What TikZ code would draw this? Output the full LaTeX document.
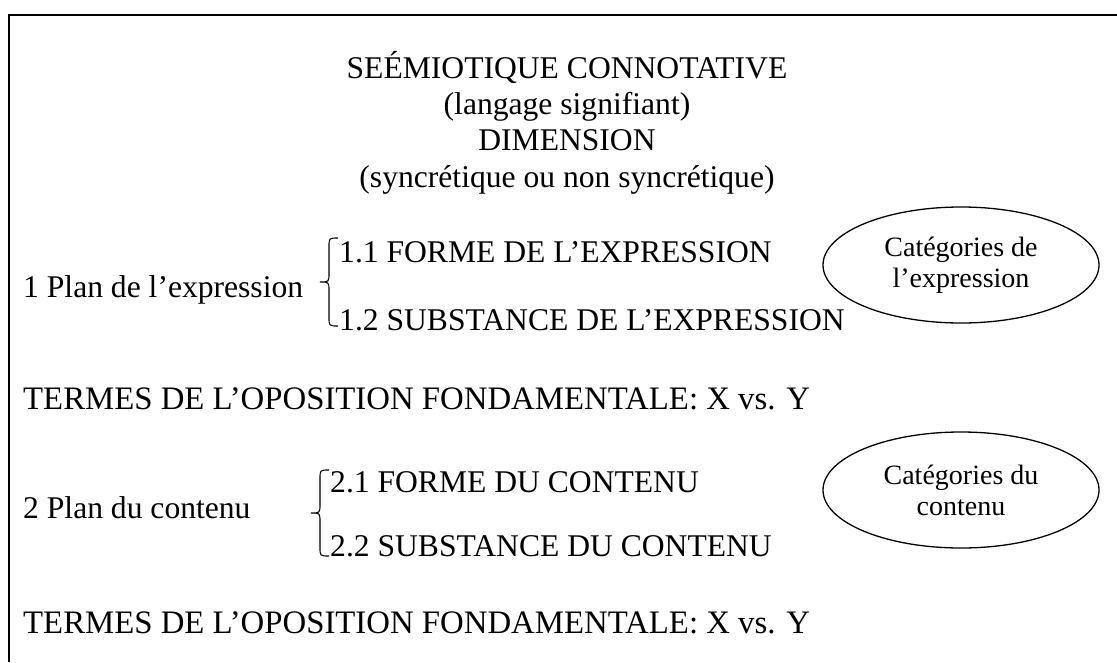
\documentclass[tikz,border=0pt]{standalone}
\usepackage{fontspec}
\setmainfont{Liberation Serif}
\usetikzlibrary{shapes.geometric}
\tikzset{
  maintext/.style={inner sep=0pt, anchor=base west, font=\fontsize{31.6}{36}\selectfont},
  termtext/.style={inner sep=0pt, anchor=base west, font=\fontsize{32.8}{37}\selectfont},
  titletext/.style={inner sep=0pt, anchor=base, font=\fontsize{31.6}{36}\selectfont},
  catellipse/.style={draw, line width=1.3pt, ellipse, minimum width=276pt, minimum height=116pt, inner sep=0pt, align=center, font=\fontsize{28}{31}\selectfont},
  bracepath/.style={line width=1.1pt},
  frame/.style={line width=2pt}
}
\begin{document}
\begin{tikzpicture}[x=1pt,y=-1pt]
\useasboundingbox (0,0) rectangle (1117,662);
\fill[white] (0,0) rectangle (1117,662);
\draw[frame] (9,662) -- (9,15) -- (1117,15);

% title
\node[titletext] (t1) at (567,78) {SEÉMIOTIQUE CONNOTATIVE};
\node[titletext] (t2) at (567,114) {(langage signifiant)};
\node[titletext] (t3) at (567,150) {DIMENSION};
\node[titletext] (t4) at (567,187) {(syncrétique ou non syncrétique)};

% row 1
\node[maintext] (p1) at (23,297) {1 Plan de l’expression};
\node[maintext] (f1) at (339,262) {1.1 FORME DE L’EXPRESSION};
\node[maintext] (s1) at (339,330) {1.2 SUBSTANCE DE L’EXPRESSION};
\node[catellipse] (e1) at (961,265) {Catégories de\\l’expression};
\draw[bracepath] (338,238) .. controls (329,238) .. (329,247) -- (329,273)
  .. controls (329,282) .. (320,282) .. controls (329,282) .. (329,291)
  -- (329,317) .. controls (329,326) .. (338,326);

\node[termtext] (o1) at (23,409) {TERMES DE L’OPOSITION FONDAMENTALE: X vs. Y};

% row 2
\node[maintext] (p2) at (23,518) {2 Plan du contenu};
\node[maintext] (f2) at (330,492) {2.1 FORME DU CONTENU};
\node[maintext] (s2) at (330,556) {2.2 SUBSTANCE DU CONTENU};
\node[catellipse] (e2) at (961,490) {Catégories du\\contenu};
\draw[bracepath] (329,470) .. controls (320,470) .. (320,479) -- (320,504)
  .. controls (320,513) .. (311,513) .. controls (320,513) .. (320,522)
  -- (320,547) .. controls (320,556) .. (329,556);

\node[termtext] (o2) at (23,633) {TERMES DE L’OPOSITION FONDAMENTALE: X vs. Y};
\end{tikzpicture}
\end{document}
